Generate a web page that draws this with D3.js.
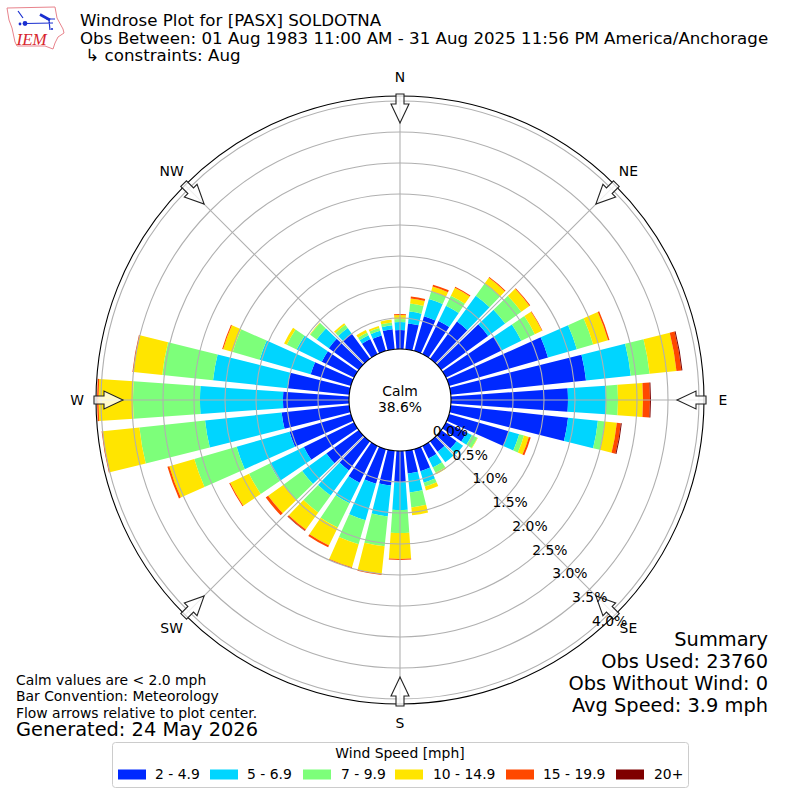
<!DOCTYPE html>
<html>
<head>
<meta charset="utf-8">
<script src="https://cdn.jsdelivr.net/npm/d3@7"></script>
<style>
  html, body { margin: 0; padding: 0; background: #fff; }
  text { font-family: 'DejaVu Sans', sans-serif; fill: #000; }
</style>
</head>
<body>
<div id="chart"></div>
<script>
// Wind directions, one bar every 10 degrees
const directions = d3.range(0, 360, 10);

const speed2to49 = [0.306, 0.419, 0.581, 0.597, 0.742, 0.935, 1.0, 1.661, 2.194, 1.887, 1.903, 1.0,
  0.371, 0.306, 0.21, 0.226, 0.371, 0.371, 0.5, 0.565, 0.581, 0.661, 0.581, 0.645,
  0.903, 1.032, 1.097, 1.065, 1.0, 0.677, 0.581, 0.597, 0.5, 0.274, 0.258, 0.323];
const speed5to69 = [0.129, 0.194, 0.29, 0.274, 0.516, 0.339, 0.355, 0.484, 0.726, 0.613, 0.484, 0.177,
  0.097, 0.129, 0.21, 0.161, 0.194, 0.306, 0.452, 0.5, 0.613, 0.371, 0.5, 0.484,
  0.613, 0.887, 1.242, 1.339, 1.21, 0.855, 0.452, 0.242, 0.113, 0.065, 0.081, 0.065];
const speed7to99 = [0.048, 0.129, 0.129, 0.177, 0.242, 0.323, 0.242, 0.274, 0.306, 0.194, 0.113, 0.081,
  0.097, 0, 0, 0.097, 0.065, 0.242, 0.371, 0.484, 0.403, 0.435, 0.339, 0.371,
  0.371, 0.71, 1.065, 1.081, 0.823, 0.452, 0.177, 0.129, 0.065, 0.048, 0.048, 0.048];
const speed10to149 = [0.065, 0.081, 0.081, 0.145, 0.113, 0.161, 0.129, 0.25, 0.435, 0.403, 0.194, 0.081,
  0.008, 0, 0, 0.024, 0.065, 0.129, 0.419, 0.452, 0.387, 0.323, 0.339, 0.306,
  0.339, 0.419, 0.597, 0.556, 0.468, 0.161, 0.048, 0.008, 0.032, 0.048, 0.032, 0.048];
const speed15to199 = [0.016, 0.032, 0.032, 0.016, 0.016, 0.016, 0.008, 0.024, 0.081, 0.113, 0.065, 0.032,
  0, 0, 0, 0, 0, 0, 0.016, 0.016, 0.016, 0.032, 0.024, 0.048,
  0.016, 0.032, 0.016, 0.024, 0.016, 0.016, 0, 0, 0, 0, 0, 0];
const speed20up = [0, 0, 0, 0, 0, 0, 0, 0, 0.016, 0.016, 0.016, 0,
  0, 0, 0, 0, 0, 0, 0, 0, 0, 0, 0.008, 0,
  0, 0, 0, 0, 0, 0, 0, 0, 0, 0, 0, 0];

const speedLabels = ['2 - 4.9', '5 - 6.9', '7 - 9.9', '10 - 14.9', '15 - 19.9', '20+'];
const speedColors = ['#0029ff', '#00d5ff', '#7dff7a', '#ffe500', '#ff4800', '#7f0000'];
const speedSeries = [speed2to49, speed5to69, speed7to99, speed10to149, speed15to199, speed20up];

const radialTicks = [0, 0.5, 1, 1.5, 2, 2.5, 3, 3.5, 4];
const compassLabels = ['N', 'NE', 'E', 'SE', 'S', 'SW', 'W', 'NW'];
const compassAngles = [0, 45, 90, 135, 180, 225, 270, 315];

const titleLines = ['Windrose Plot for [PASX] SOLDOTNA',
  'Obs Between: 01 Aug 1983 11:00 AM - 31 Aug 2025 11:56 PM America/Anchorage',
  ' \u21b3 constraints: Aug'];
const noteLines = ['Calm values are < 2.0 mph', 'Bar Convention: Meteorology', 'Flow arrows relative to plot center.'];
const summaryLines = ['Summary', 'Obs Used: 23760', 'Obs Without Wind: 0', 'Avg Speed: 3.9 mph'];

const svgSize = 800;
const svg = d3.select('#chart').append('svg')
  .attr('width', svgSize)
  .attr('height', svgSize)
  .style('display', 'block');

const rad = d => d * Math.PI / 180;

// Radius scale, the hole in the middle is the 0% ring
const rScale = d3.scaleLinear().domain([0, 4]).range([51, 299]);
const outerR = 304;
const barWidth = 8;

const rose = svg.append('g').attr('transform', 'translate(400,400)');

// Stack the bins per direction
const table = directions.map((dir, i) => {
  let row = { dir: dir };
  speedLabels.forEach((s, j) => { row[s] = speedSeries[j][i]; });
  return row;
});
const stacked = d3.stack().keys(speedLabels)(table);

const arc = d3.arc()
  .startAngle(d => rad(d.data.dir - barWidth / 2))
  .endAngle(d => rad(d.data.dir + barWidth / 2))
  .innerRadius(d => rScale(d[0]))
  .outerRadius(d => rScale(d[1]));

rose.selectAll('g.layer')
  .data(stacked)
  .enter()
  .append('g')
  .attr('class', 'layer')
  .attr('fill', (d, i) => speedColors[i])
  .selectAll('path')
  .data(d => d.filter(p => p[1] > p[0]))
  .enter()
  .append('path')
  .attr('d', arc);

// Grid on top of the bars
rose.selectAll('circle.grid')
  .data(radialTicks.slice(1))
  .enter()
  .append('circle')
  .attr('class', 'grid')
  .attr('r', d => rScale(d))
  .attr('fill', 'none')
  .attr('stroke', '#b0b0b0')
  .attr('stroke-width', 1.1);

rose.selectAll('line.spoke')
  .data(compassAngles)
  .enter()
  .append('line')
  .attr('class', 'spoke')
  .attr('x1', d => rScale(0) * Math.sin(rad(d)))
  .attr('y1', d => -rScale(0) * Math.cos(rad(d)))
  .attr('x2', d => outerR * Math.sin(rad(d)))
  .attr('y2', d => -outerR * Math.cos(rad(d)))
  .attr('stroke', '#b0b0b0')
  .attr('stroke-width', 1.1);

// Hole and outer spine
rose.append('circle').attr('r', rScale(0)).attr('fill', '#fff').attr('stroke', '#000').attr('stroke-width', 1.1);
rose.append('circle').attr('r', outerR).attr('fill', 'none').attr('stroke', '#000').attr('stroke-width', 1.1);

rose.append('text').attr('y', -9).attr('text-anchor', 'middle').attr('dy', '0.35em').attr('font-size', '13.9px').text('Calm');
rose.append('text').attr('y', 7.5).attr('text-anchor', 'middle').attr('dy', '0.35em').attr('font-size', '13.9px').text('38.6%');

// Flow arrows pointing at the center, drawn pointing down from the N position
const arrowShape = [[-4, -306], [4, -306], [4, -296], [9, -296], [0, -277], [-9, -296], [-4, -296]];
rose.selectAll('polygon.arrow')
  .data(compassAngles)
  .enter()
  .append('polygon')
  .attr('class', 'arrow')
  .attr('points', arrowShape.map(p => p.join(',')).join(' '))
  .attr('transform', d => `rotate(${d})`)
  .attr('fill', 'rgba(255,255,255,0.8)')
  .attr('stroke', '#222')
  .attr('stroke-width', 1.1);

// Direction labels
rose.selectAll('text.compass')
  .data(compassAngles)
  .enter()
  .append('text')
  .attr('class', 'compass')
  .attr('x', d => 323 * Math.sin(rad(d)))
  .attr('y', d => -323 * Math.cos(rad(d)))
  .attr('text-anchor', 'middle')
  .attr('dy', '0.35em')
  .attr('font-size', '13.9px')
  .text((d, i) => compassLabels[i]);

// Radial tick labels sit along the 140 degree bearing
rose.selectAll('text.rtick')
  .data(radialTicks)
  .enter()
  .append('text')
  .attr('class', 'rtick')
  .attr('x', d => rScale(d) * Math.sin(rad(140)) + 17.5)
  .attr('y', d => -rScale(d) * Math.cos(rad(140)) - 8)
  .attr('text-anchor', 'middle')
  .attr('dy', '0.35em')
  .attr('font-size', '13.9px')
  .text(d => d.toFixed(1) + '%');

// Titles
svg.selectAll('text.title')
  .data(titleLines)
  .enter()
  .append('text')
  .attr('class', 'title')
  .attr('x', 80)
  .attr('y', (d, i) => 26 + i * 17.6)
  .attr('xml:space', 'preserve')
  .style('white-space', 'pre')
  .attr('font-size', '16.66px')
  .text(d => d);

// Notes bottom left
svg.selectAll('text.note')
  .data(noteLines)
  .enter()
  .append('text')
  .attr('class', 'note')
  .attr('x', 16)
  .attr('y', (d, i) => 685 + i * 16.3)
  .attr('font-size', '13.9px')
  .text(d => d);
svg.append('text').attr('x', 16).attr('y', 736).attr('font-size', '19.4px').text('Generated: 24 May 2026');

// Summary bottom right
svg.selectAll('text.summary')
  .data(summaryLines)
  .enter()
  .append('text')
  .attr('class', 'summary')
  .attr('x', 768)
  .attr('y', (d, i) => 646 + i * 22)
  .attr('text-anchor', 'end')
  .attr('font-size', '19.4px')
  .text(d => d);

// Legend
const legendPatchX = [118, 210, 303, 395, 506, 616];
const legendTextX = [155, 247, 341, 433, 543, 654];
const legend = svg.append('g');
legend.append('rect')
  .attr('x', 112.5).attr('y', 742.5).attr('width', 576).attr('height', 45)
  .attr('rx', 3)
  .attr('fill', '#fff')
  .attr('stroke', '#ccc');
legend.append('text')
  .attr('x', 400).attr('y', 753).attr('dy', '0.35em')
  .attr('text-anchor', 'middle').attr('font-size', '13.9px')
  .text('Wind Speed [mph]');
speedLabels.forEach((label, i) => {
  legend.append('rect')
    .attr('x', legendPatchX[i]).attr('y', 769.5).attr('width', 28).attr('height', 10)
    .attr('fill', speedColors[i]);
  legend.append('text')
    .attr('x', legendTextX[i]).attr('y', 774.5).attr('dy', '0.35em')
    .attr('font-size', '13.9px')
    .text(label);
});

// IEM logo
const logo = svg.append('g');
const iowa = [[7, 8], [55, 7], [57, 18], [63, 29], [64, 33], [58, 37], [55, 43], [53, 49], [45, 46], [17, 46], [15, 42], [12, 28], [9, 20]];
logo.append('path')
  .attr('d', d3.line().curve(d3.curveLinearClosed)(iowa))
  .attr('fill', 'none')
  .attr('stroke', '#e8838c')
  .attr('stroke-width', 1);
logo.append('path')
  .attr('d', 'M25,23.5 L53,23 M49,20 L50,30 M46,19 L55,19 M18,11 L23,18')
  .attr('fill', 'none')
  .attr('stroke', '#1a2fd0')
  .attr('stroke-width', 1.2);
logo.append('path')
  .attr('d', 'M40,14.5 L50,20')
  .attr('fill', 'none')
  .attr('stroke', '#1a2fd0')
  .attr('stroke-width', 2.6);
logo.append('circle').attr('cx', 25).attr('cy', 23.5).attr('r', 2.4).attr('fill', '#1a2fd0');
logo.append('circle').attr('cx', 20).attr('cy', 24).attr('r', 1.4).attr('fill', '#1a2fd0');
logo.append('circle').attr('cx', 52).attr('cy', 29).attr('r', 1.1).attr('fill', '#1a2fd0');
logo.append('text')
  .attr('x', 16.5).attr('y', 45)
  .style('font-family', "'Liberation Serif', serif")
  .style('font-style', 'italic')
  .style('fill', '#d8262e')
  .attr('font-size', '17px')
  .text('IEM');
</script>
</body>
</html>
